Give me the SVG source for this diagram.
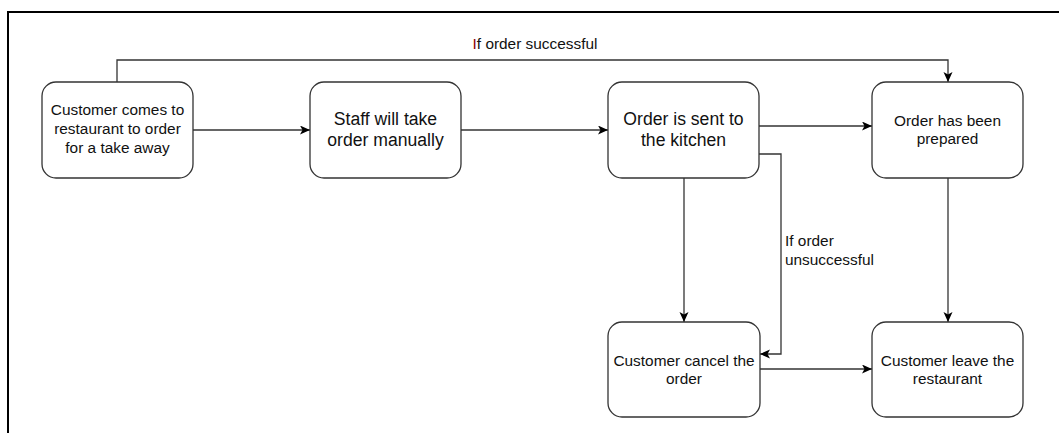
<svg xmlns="http://www.w3.org/2000/svg" width="1059" height="433" viewBox="0 0 1059 433">
  <style>
    .frame { fill: none; stroke: #000; stroke-width: 2; }
    .box { fill: #fff; stroke: #333; stroke-width: 1.3; }
    .edge { fill: none; stroke: #333; stroke-width: 1.3; }
    .t { font-family: "Liberation Sans", Arial, sans-serif; font-size: 15.4px; fill: #111; text-anchor: middle; }
    .big { font-size: 17.6px; }
    .lbl { font-family: "Liberation Sans", Arial, sans-serif; font-size: 15.4px; fill: #111; }
  </style>
  <defs>
    <marker id="arrow" markerUnits="userSpaceOnUse" markerWidth="12" markerHeight="10" refX="10" refY="4.5" orient="auto">
      <path d="M0,0 L10,4.5 L0,9 L2.5,4.5 Z" fill="#000"/>
    </marker>
  </defs>

  <!-- outer frame (top and left edges) -->
  <path class="frame" d="M8,433 V12 H1059"/>

  <!-- connectors -->
  <g id="connectors">
    <path class="edge" d="M193,130 H310" marker-end="url(#arrow)"/>
    <path class="edge" d="M461,130 H608" marker-end="url(#arrow)"/>
    <path class="edge" d="M759,126 H872" marker-end="url(#arrow)"/>
    <path class="edge" d="M117,82 V60 H948 V82" marker-end="url(#arrow)"/>
    <path class="edge" d="M759,154 H781 V354 H760" marker-end="url(#arrow)"/>
    <path class="edge" d="M684,178 V322" marker-end="url(#arrow)"/>
    <path class="edge" d="M948,178 V322" marker-end="url(#arrow)"/>
    <path class="edge" d="M760,369 H872" marker-end="url(#arrow)"/>
    <text class="lbl" x="535" y="49" text-anchor="middle"><tspan fill="#8b0000">I</tspan>f order successful</text>
    <text class="lbl" x="785" y="246">If order</text>
    <text class="lbl" x="785" y="265">unsuccessful</text>
  </g>

  <g id="customer-comes">
    <rect class="box" x="42" y="82" width="151" height="96" rx="14"/>
    <text class="t" x="117.5" y="115">Customer comes to</text>
    <text class="t" x="117.5" y="134">restaurant to order</text>
    <text class="t" x="117.5" y="153">for a take away</text>
  </g>

  <g id="staff-take-order">
    <rect class="box" x="310" y="82" width="151" height="96" rx="14"/>
    <text class="t big" x="385.5" y="125">Staff will take</text>
    <text class="t big" x="385.5" y="146">order manually</text>
  </g>

  <g id="order-sent">
    <rect class="box" x="608" y="82" width="151" height="96" rx="14"/>
    <text class="t big" x="683.5" y="125">Order is sent to</text>
    <text class="t big" x="683.5" y="146">the kitchen</text>
  </g>

  <g id="order-prepared">
    <rect class="box" x="872" y="82" width="151" height="96" rx="14"/>
    <text class="t" x="947.5" y="126">Order has been</text>
    <text class="t" x="947.5" y="144">prepared</text>
  </g>

  <g id="customer-cancel">
    <rect class="box" x="608" y="322" width="152" height="95" rx="14"/>
    <text class="t" x="684" y="366">Customer cancel the</text>
    <text class="t" x="684" y="384">order</text>
  </g>

  <g id="customer-leave">
    <rect class="box" x="872" y="322" width="151" height="95" rx="14"/>
    <text class="t" x="947.5" y="366">Customer leave the</text>
    <text class="t" x="947.5" y="384">restaurant</text>
  </g>
</svg>
